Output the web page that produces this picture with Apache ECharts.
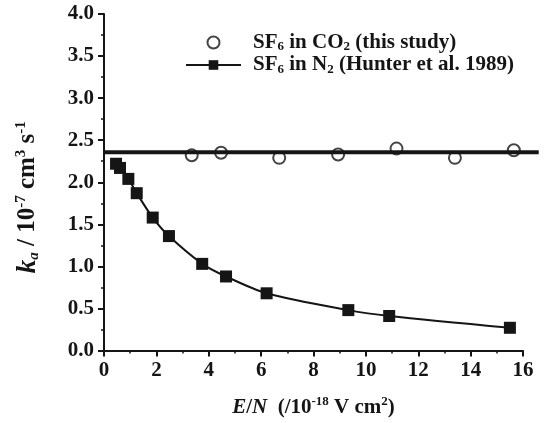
<!DOCTYPE html>
<html>
<head>
<meta charset="utf-8">
<script src="https://cdn.jsdelivr.net/npm/echarts@6/dist/echarts.min.js"></script>
<style>
  html, body { margin: 0; padding: 0; background: #fff; }
  #chart { width: 548px; height: 423px; }
</style>
</head>
<body>
<div id="chart"></div>
<script>
// SF6 in CO2 (this study)
const co2X = [3.35, 4.47, 6.69, 8.94, 11.17, 13.40, 15.65]
const co2Y = [2.32, 2.35, 2.29, 2.33, 2.40, 2.29, 2.38]
// horizontal fit through the CO2 points (runs a bit past the axis end)
const fitX = [0, 16.6]
const fitY = [2.36, 2.36]
// SF6 in N2 (Hunter et al. 1989)
const n2X = [0.46, 0.61, 0.93, 1.25, 1.86, 2.48, 3.75, 4.66, 6.21, 9.33, 10.89, 15.5]
const n2Y = [2.22, 2.17, 2.04, 1.87, 1.58, 1.36, 1.03, 0.88, 0.68, 0.48, 0.41, 0.27]

const FONT = '"Liberation Serif", "Times New Roman", serif'
const INK = '#151515'

const zip = (xs, ys) => xs.map((x, i) => [x, ys[i]])

const chart = echarts.init(document.getElementById('chart'))

const axisCommon = {
  axisLine: { lineStyle: { color: INK, width: 2 } },
  axisTick: { show: true, inside: false, length: 6, lineStyle: { color: INK, width: 2 } },
  minorTick: { show: true, splitNumber: 2, length: 3, lineStyle: { color: INK, width: 1.5 } },
  splitLine: { show: false },
  axisLabel: { color: INK, fontFamily: FONT, fontWeight: 'bold', fontSize: 21, margin: 10 }
}

// plot area is 419px wide for 0..16, second grid stretches to 16.6
const gridMain = { left: 104, right: 25, top: 14, bottom: 72 }
const gridFit = { left: 104, right: 25 - 0.6 * 419 / 16, top: 14, bottom: 72 }

chart.setOption({
  backgroundColor: '#fff',
  animation: false,
  grid: [gridMain, gridFit],
  legend: {
    orient: 'vertical',
    left: 180,
    top: 27,
    itemWidth: 55,
    itemHeight: 12,
    itemGap: 1,
    data: ['co2', 'n2'],
    formatter: name => name === 'co2'
      ? '{n|SF}{s|6}{n| in CO}{s|2}{n| (this study)}'
      : '{n|SF}{s|6}{n| in N}{s|2}{n| (Hunter et al. 1989)}',
    textStyle: {
      padding: [0, 0, 0, 7],
      rich: {
        n: { fontFamily: FONT, fontWeight: 'bold', fontSize: 21, color: INK, lineHeight: 22 },
        s: { fontFamily: FONT, fontWeight: 'bold', fontSize: 13, color: INK, lineHeight: 8, verticalAlign: 'bottom' }
      }
    }
  },
  xAxis: [{
    type: 'value',
    gridIndex: 0,
    min: 0,
    max: 16,
    interval: 2,
    ...axisCommon,
    name: '{i|E}{n|/}{i|N}{n|  (/10}{p|-18}{n| V cm}{p|2}{n|)}',
    nameLocation: 'middle',
    nameGap: 45,
    nameTextStyle: {
      rich: {
        n: { fontFamily: FONT, fontWeight: 'bold', fontSize: 21, color: INK, lineHeight: 24 },
        i: { fontFamily: FONT, fontWeight: 'bold', fontStyle: 'italic', fontSize: 21, color: INK, lineHeight: 24 },
        p: { fontFamily: FONT, fontWeight: 'bold', fontSize: 13, color: INK, lineHeight: 10, verticalAlign: 'top' }
      }
    }
  }, {
    type: 'value',
    gridIndex: 1,
    min: 0,
    max: 16.6,
    show: false
  }],
  yAxis: [{
    type: 'value',
    gridIndex: 0,
    min: 0,
    max: 4,
    interval: 0.5,
    ...axisCommon,
    axisLabel: { ...axisCommon.axisLabel, formatter: v => v.toFixed(1) },
    name: '{i|k}{b|a}{n| / 10}{p|-7}{n| cm}{p|3}{n| s}{p|-1}',
    nameLocation: 'middle',
    nameRotate: 90,
    nameGap: 62,
    nameTextStyle: {
      padding: [0, 30, 0, 0],
      rich: {
        n: { fontFamily: FONT, fontWeight: 'bold', fontSize: 25, color: INK, lineHeight: 28 },
        i: { fontFamily: FONT, fontWeight: 'bold', fontStyle: 'italic', fontSize: 27, color: INK, lineHeight: 28 },
        b: { fontFamily: FONT, fontWeight: 'bold', fontStyle: 'italic', fontSize: 15, color: INK, lineHeight: 10, verticalAlign: 'bottom' },
        p: { fontFamily: FONT, fontWeight: 'bold', fontSize: 15, color: INK, lineHeight: 10, verticalAlign: 'top' }
      }
    }
  }, {
    type: 'value',
    gridIndex: 1,
    min: 0,
    max: 4,
    show: false
  }],
  series: [
    {
      name: 'co2',
      type: 'scatter',
      data: zip(co2X, co2Y),
      symbol: 'emptyCircle',
      symbolSize: 12,
      itemStyle: { color: INK, borderColor: INK, borderWidth: 2.5 },
      z: 2
    },
    {
      name: 'fit',
      type: 'line',
      xAxisIndex: 1,
      yAxisIndex: 1,
      data: zip(fitX, fitY),
      showSymbol: false,
      lineStyle: { color: INK, width: 4 },
      z: 3
    },
    {
      name: 'n2',
      type: 'line',
      data: zip(n2X, n2Y),
      smooth: 0.3,
      symbol: 'rect',
      symbolSize: 12,
      itemStyle: { color: INK },
      lineStyle: { color: INK, width: 2 },
      z: 4
    }
  ]
})

window.addEventListener('resize', () => chart.resize())
</script>
</body>
</html>
